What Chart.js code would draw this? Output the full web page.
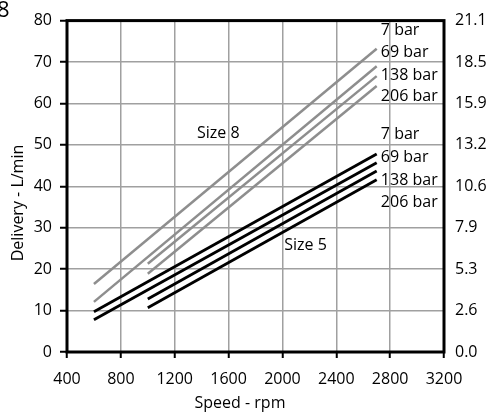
<!DOCTYPE html>
<html>
<head>
<meta charset="utf-8">
<script src="https://cdn.jsdelivr.net/npm/chart.js@4.4.0/dist/chart.umd.min.js"></script>
<style>
  html, body { margin: 0; padding: 0; background: #fff; }
</style>
</head>
<body>
<canvas id="chart" width="492" height="417"></canvas>
<script>
// speeds (rpm) where each line starts / ends
const speedsFrom600 = [600, 2700];
const speedsFrom1000 = [1000, 2700];

// delivery L/min, size 8 pump (grey)
const size8_7bar = [16.4, 73.2];
const size8_69bar = [12.1, 69.0];
const size8_138bar = [21.3, 66.6];
const size8_206bar = [18.9, 64.2];

// delivery L/min, size 5 pump (black)
const size5_7bar = [9.7, 47.8];
const size5_69bar = [7.8, 45.7];
const size5_138bar = [12.8, 43.7];
const size5_206bar = [10.7, 41.6];

const pressureLabels = ["7 bar", "69 bar", "138 bar", "206 bar"];
const sizeLabels = ["Size 8", "Size 5"];

const xTicks = [400, 800, 1200, 1600, 2000, 2400, 2800, 3200];
const leftTicks = [0, 10, 20, 30, 40, 50, 60, 70, 80];
const rightTicks = ["0.0", "2.6", "5.3", "7.9", "10.6", "13.2", "15.9", "18.5", "21.1"];

const GREY = "#8e8e8e";
const BLACK = "#000000";

const toPoints = (xs, ys) => xs.map((x, i) => ({ x: x, y: ys[i] }));

const line = (xs, ys, color) => ({
  data: toPoints(xs, ys),
  borderColor: color,
  borderWidth: color === GREY ? 2.5 : 2.8,
  pointRadius: 0,
  fill: false,
  tension: 0,
});

Chart.defaults.font.family = '"Open Sans", sans-serif';
Chart.defaults.font.size = 16;
Chart.defaults.color = "#000";

const annotate = {
  id: "annotate",
  afterDraw(chart) {
    const { ctx, chartArea: a, scales } = chart;
    const x = scales.x;
    const y = scales.y;
    ctx.save();

    // frame
    ctx.strokeStyle = "#000";
    ctx.lineWidth = 3;
    ctx.strokeRect(a.left, a.top, a.right - a.left, a.bottom - a.top);

    ctx.fillStyle = "#000";
    ctx.font = '16px "Open Sans", sans-serif';
    ctx.textBaseline = "middle";

    // pressure labels at the line ends
    ctx.textAlign = "left";
    const greyY = [77.6, 72.4, 66.7, 61.8];
    const blackY = [52.5, 46.9, 41.5, 36.2];
    pressureLabels.forEach((t, i) => {
      ctx.fillText(t, x.getPixelForValue(2731), y.getPixelForValue(greyY[i]));
      ctx.fillText(t, x.getPixelForValue(2731), y.getPixelForValue(blackY[i]));
    });

    // size labels
    ctx.textAlign = "center";
    ctx.fillText(sizeLabels[0], x.getPixelForValue(1524), y.getPixelForValue(52.8));
    ctx.fillText(sizeLabels[1], x.getPixelForValue(2172), y.getPixelForValue(25.8));

    // axis titles
    ctx.fillText("Speed - rpm", 240, 403);
    ctx.save();
    ctx.translate(18, 203);
    ctx.rotate(-Math.PI / 2);
    ctx.fillText("Delivery - L/min", 0, 0);
    ctx.restore();

    // cut-off figure number at top left
    ctx.textAlign = "left";
    ctx.font = '22px "Open Sans", sans-serif';
    ctx.fillText("8", -3, 11);

    ctx.restore();
  },
};

new Chart(document.getElementById("chart"), {
  type: "line",
  data: {
    datasets: [
      line(speedsFrom600, size8_7bar, GREY),
      line(speedsFrom600, size8_69bar, GREY),
      line(speedsFrom1000, size8_138bar, GREY),
      line(speedsFrom1000, size8_206bar, GREY),
      line(speedsFrom600, size5_7bar, BLACK),
      line(speedsFrom600, size5_69bar, BLACK),
      line(speedsFrom1000, size5_138bar, BLACK),
      line(speedsFrom1000, size5_206bar, BLACK),
    ],
  },
  options: {
    responsive: false,
    animation: false,
    devicePixelRatio: 1,
    layout: { padding: { top: 14, left: 0, right: 0, bottom: 0 } },
    plugins: {
      legend: { display: false },
      tooltip: { enabled: false },
    },
    scales: {
      x: {
        type: "linear",
        min: 400,
        max: 3200,
        afterBuildTicks: (s) => {
          s.ticks = xTicks.map((v) => ({ value: v }));
        },
        afterFit: (s) => {
          s.height = 65;
        },
        ticks: {
          padding: 12,
          maxRotation: 0,
          autoSkip: false,
          callback: (v) => String(v),
        },
        grid: {
          color: "#a0a0a0",
          lineWidth: 1.5,
          tickColor: "#000",
          tickWidth: 2,
          tickLength: 6,
        },
        border: { display: false },
      },
      y: {
        type: "linear",
        position: "left",
        min: 0,
        max: 80,
        afterBuildTicks: (s) => {
          s.ticks = leftTicks.map((v) => ({ value: v }));
        },
        afterFit: (s) => {
          s.width = 67;
        },
        ticks: { padding: 8, callback: (v) => String(v) },
        grid: {
          color: "#a0a0a0",
          lineWidth: 1.5,
          tickColor: "#000",
          tickWidth: 2,
          tickLength: 7,
        },
        border: { display: false },
      },
      y2: {
        type: "linear",
        position: "right",
        min: 0,
        max: 80,
        afterBuildTicks: (s) => {
          s.ticks = leftTicks.map((v) => ({ value: v }));
        },
        afterFit: (s) => {
          s.width = 48;
        },
        ticks: {
          padding: 11,
          callback: (v) => rightTicks[leftTicks.indexOf(v)],
        },
        grid: { display: false, drawTicks: false },
        border: { display: false },
      },
    },
  },
  plugins: [annotate],
});
</script>
</body>
</html>
